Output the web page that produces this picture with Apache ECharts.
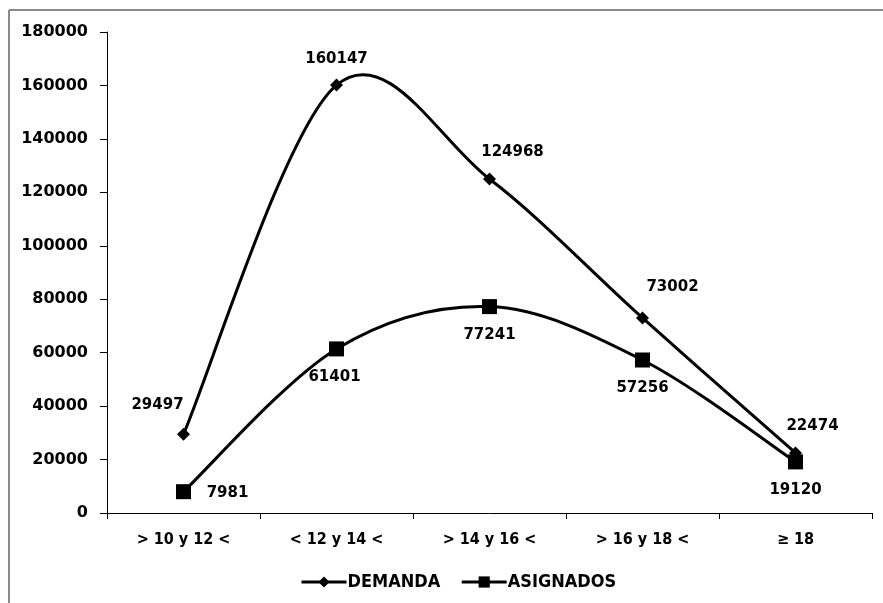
<!DOCTYPE html>
<html><head><meta charset="utf-8">
<script src="https://cdn.jsdelivr.net/npm/echarts@6/dist/echarts.min.js"></script>
<style>html,body{margin:0;padding:0;background:#fff}#c{width:883px;height:603px}</style>
</head><body><div id="c"></div>
<script>
const categories = ['> 10 y 12 <', '< 12 y 14 <', '> 14 y 16 <', '> 16 y 18 <', '≥ 18'];
const demanda = [29497, 160147, 124968, 73002, 22474];
const asignados = [7981, 61401, 77241, 57256, 19120];
const demandaLabelOffset = [[-26, -29], [0, -26], [23, -27], [30, -31], [17, -27]];
const asignadosLabelOffset = [[44, 1], [-2, 28], [0, 29], [0, 28], [0, 28]];

const boldFont = '"DejaVu Sans", sans-serif';
const condFont = '"DejaVu Sans Condensed", "DejaVu Sans", sans-serif';
const chart = echarts.init(document.getElementById('c'));
const lbl = {show: true, position: 'inside', color: '#000', fontWeight: 'bold', fontSize: 15, fontFamily: boldFont};

// Excel-style smoothed curve (Catmull-Rom, factor 1/6) drawn through the axis scales
function smoothCurve(values) {
  return function (params, api) {
    if (params.dataIndex !== 0) return {type: 'group', children: []};
    const pts = values.map((v, i) => api.coord([i, v]));
    const n = pts.length;
    let d = 'M' + pts[0][0] + ',' + pts[0][1];
    for (let i = 0; i < n - 1; i++) {
      const p0 = pts[Math.max(i - 1, 0)], p1 = pts[i], p2 = pts[i + 1], p3 = pts[Math.min(i + 2, n - 1)];
      const c1 = [p1[0] + (p2[0] - p0[0]) / 6, p1[1] + (p2[1] - p0[1]) / 6];
      const c2 = [p2[0] - (p3[0] - p1[0]) / 6, p2[1] - (p3[1] - p1[1]) / 6];
      d += 'C' + c1[0] + ',' + c1[1] + ' ' + c2[0] + ',' + c2[1] + ' ' + p2[0] + ',' + p2[1];
    }
    return {type: 'path', shape: {pathData: d}, style: {stroke: '#000', lineWidth: 3, fill: null}, silent: true};
  };
}

chart.setOption({
  animation: false,
  graphic: [
    {type: 'line', shape: {x1: 9, y1: 10, x2: 900, y2: 10}, style: {stroke: '#8a8a8a', lineWidth: 2}},
    {type: 'line', shape: {x1: 9, y1: 10, x2: 9, y2: 620}, style: {stroke: '#8a8a8a', lineWidth: 2}}
  ],
  grid: {left: 107, right: 11, top: 32, bottom: 90},
  legend: {
    left: 295, top: 568, itemWidth: 45, itemHeight: 14, itemGap: 20,
    lineStyle: {color: '#000', width: 3, opacity: 1},
    textStyle: {color: '#000', fontWeight: 'bold', fontSize: 18, fontFamily: condFont, padding: [0, 0, 0, -4]},
    data: ['DEMANDA', 'ASIGNADOS']
  },
  xAxis: {
    type: 'category', data: categories, boundaryGap: true,
    axisLine: {lineStyle: {color: '#000', width: 1}},
    axisTick: {show: true, length: 6, lineStyle: {color: '#000'}},
    axisLabel: {color: '#000', fontWeight: 'bold', fontSize: 16, fontFamily: condFont, margin: 19}
  },
  yAxis: {
    type: 'value', min: 0, max: 180000, interval: 20000,
    splitLine: {show: false},
    axisLine: {show: true, lineStyle: {color: '#000', width: 1}},
    axisTick: {show: true, length: 7, lineStyle: {color: '#000'}},
    axisLabel: {color: '#000', fontWeight: 'bold', fontSize: 16, fontFamily: boldFont, margin: 19,
      formatter: v => String(v)}
  },
  series: [
    {
      name: 'DEMANDA_curve', type: 'custom', z: 1,
      renderItem: smoothCurve(demanda),
      encode: {x: 0, y: 1},
      data: demanda.map((v, i) => [i, v])
    },
    {
      name: 'ASIGNADOS_curve', type: 'custom', z: 1,
      renderItem: smoothCurve(asignados),
      encode: {x: 0, y: 1},
      data: asignados.map((v, i) => [i, v])
    },
    {
      name: 'DEMANDA', type: 'line', z: 3,
      symbol: 'diamond', symbolSize: 13,
      lineStyle: {color: '#000', width: 3, opacity: 0},
      itemStyle: {color: '#000'},
      data: demanda.map((v, i) => ({value: v, label: Object.assign({}, lbl, {offset: demandaLabelOffset[i]})})),
      label: lbl
    },
    {
      name: 'ASIGNADOS', type: 'line', z: 3,
      symbol: 'rect', symbolSize: 15,
      lineStyle: {color: '#000', width: 3, opacity: 0},
      itemStyle: {color: '#000'},
      data: asignados.map((v, i) => ({value: v, label: Object.assign({}, lbl, {offset: asignadosLabelOffset[i]})})),
      label: lbl
    }
  ]
});
</script></body></html>
